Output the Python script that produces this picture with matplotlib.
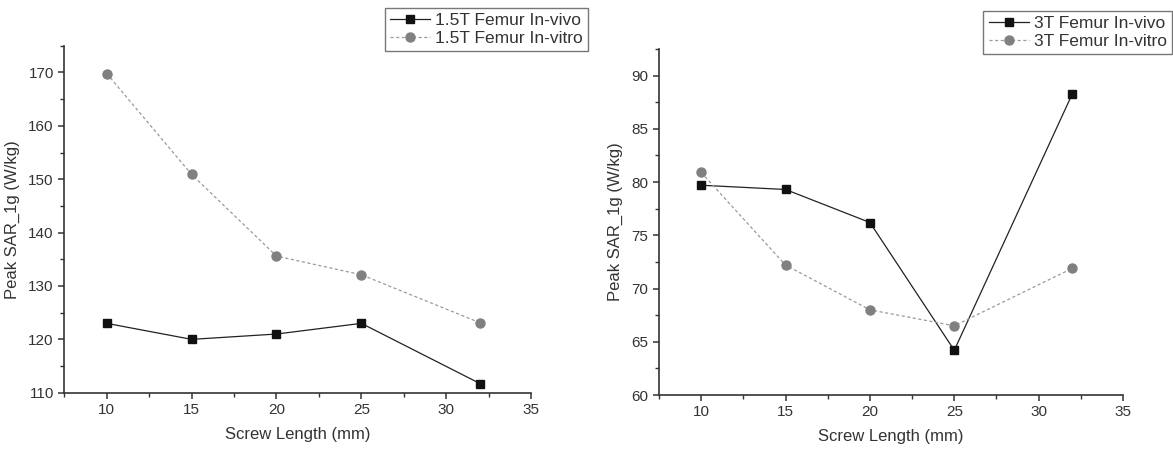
import matplotlib
import numpy as np

matplotlib.use("Agg")
import matplotlib.pyplot as plt
from matplotlib.ticker import MultipleLocator

# data
screw_length = [10, 15, 20, 25, 32]
invivo_15t = [123.0, 120.0, 121.0, 123.0, 111.7]
invitro_15t = [169.8, 150.9, 135.6, 132.1, 123.1]
invivo_3t = [79.7, 79.3, 76.2, 64.2, 88.3]
invitro_3t = [80.9, 72.2, 68.0, 66.5, 71.9]

plt.rcParams["font.family"] = ["Liberation Sans", "DejaVu Sans"]

fig = plt.figure(figsize=(11.73, 4.53), dpi=100)
ax1 = fig.add_axes([0.0548, 0.133, 0.398, 0.766])
ax2 = fig.add_axes([0.5618, 0.128, 0.3956, 0.764])


def draw(axis, vivo, vitro, labels, ylim, ymajor, legend_box):
    axis.plot(screw_length, vivo, color="#222222", lw=0.9, marker="s", ms=5.5,
              mfc="#111111", mec="#111111", label=labels[0])
    axis.plot(screw_length, vitro, color="#9a9a9a", lw=0.9, ls=(0, (2.5, 2)), marker="o",
              ms=6.5, mfc="#808080", mec="#808080", label=labels[1])
    axis.set_xlim(7.5, 35)
    axis.set_ylim(*ylim)
    axis.xaxis.set_major_locator(MultipleLocator(5))
    axis.xaxis.set_minor_locator(MultipleLocator(2.5))
    axis.yaxis.set_major_locator(MultipleLocator(ymajor))
    axis.yaxis.set_minor_locator(MultipleLocator(ymajor / 2))
    for side in ("top", "right"):
        axis.spines[side].set_visible(False)
    for side in ("left", "bottom"):
        axis.spines[side].set_color("#333333")
        axis.spines[side].set_linewidth(1.2)
    axis.tick_params(which="major", direction="out", length=4, width=1.1, color="#333333",
                     labelsize=11, labelcolor="#333333")
    axis.tick_params(which="minor", direction="out", length=3, width=1.0, color="#333333")
    axis.set_xlabel("Screw Length (mm)", fontsize=12, color="#333333", labelpad=7)
    axis.set_ylabel("Peak SAR_1g (W/kg)", fontsize=12, color="#333333", labelpad=6)
    leg = axis.legend(loc="upper right", bbox_to_anchor=legend_box,
                      bbox_transform=fig.transFigure, fontsize=12.5, frameon=True,
                      fancybox=False, edgecolor="#555555", handlelength=2.3,
                      handletextpad=0.3, borderpad=0.3, labelspacing=0.15,
                      borderaxespad=0)
    leg.get_frame().set_linewidth(1.0)
    for text in leg.get_texts():
        text.set_color("#333333")


draw(ax1, invivo_15t, invitro_15t, ["1.5T Femur In-vivo", "1.5T Femur In-vitro"],
     (110, 175), 10, (588 / 1173, 1 - 8 / 453))
draw(ax2, invivo_3t, invitro_3t, ["3T Femur In-vivo", "3T Femur In-vitro"],
     (60, 92.5), 5, (1172 / 1173, 1 - 11 / 453))

fig.savefig("out.png", dpi=100)
